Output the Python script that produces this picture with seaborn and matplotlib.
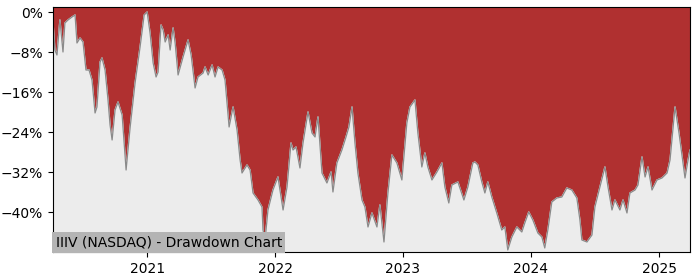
import numpy as np
import pandas as pd
import matplotlib
matplotlib.use("Agg")
import matplotlib.pyplot as plt
import seaborn as sns
from matplotlib.ticker import FuncFormatter

# decimal years (time axis)
years = [
    2020.266, 2020.281, 2020.297, 2020.320, 2020.344, 2020.359, 2020.383, 2020.414,
    2020.438, 2020.453, 2020.477, 2020.500, 2020.523, 2020.547, 2020.570, 2020.594,
    2020.609, 2020.633, 2020.648, 2020.672, 2020.695, 2020.711, 2020.727, 2020.750,
    2020.773, 2020.805, 2020.836, 2020.867, 2020.906, 2020.945, 2020.977, 2021.000,
    2021.023, 2021.047, 2021.070, 2021.086, 2021.109, 2021.125, 2021.141, 2021.164,
    2021.180, 2021.203, 2021.219, 2021.242, 2021.281, 2021.320, 2021.344, 2021.375,
    2021.398, 2021.438, 2021.453, 2021.477, 2021.508, 2021.531, 2021.555, 2021.586,
    2021.609, 2021.641, 2021.672, 2021.703, 2021.727, 2021.742, 2021.781, 2021.805,
    2021.828, 2021.867, 2021.898, 2021.906, 2021.922, 2021.945, 2021.984, 2022.023,
    2022.063, 2022.094, 2022.125, 2022.141, 2022.164, 2022.195, 2022.219, 2022.258,
    2022.289, 2022.313, 2022.336, 2022.367, 2022.406, 2022.438, 2022.453, 2022.484,
    2022.523, 2022.555, 2022.578, 2022.602, 2022.625, 2022.648, 2022.680, 2022.703,
    2022.727, 2022.758, 2022.797, 2022.820, 2022.852, 2022.883, 2022.914, 2022.953,
    2022.992, 2023.031, 2023.055, 2023.094, 2023.117, 2023.148, 2023.172, 2023.195,
    2023.227, 2023.266, 2023.305, 2023.328, 2023.359, 2023.383, 2023.430, 2023.477,
    2023.508, 2023.547, 2023.563, 2023.586, 2023.617, 2023.641, 2023.664, 2023.695,
    2023.734, 2023.773, 2023.797, 2023.820, 2023.852, 2023.891, 2023.930, 2023.953,
    2023.984, 2024.016, 2024.055, 2024.086, 2024.109, 2024.133, 2024.164, 2024.203,
    2024.242, 2024.281, 2024.320, 2024.359, 2024.383, 2024.398, 2024.438, 2024.477,
    2024.500, 2024.539, 2024.578, 2024.602, 2024.633, 2024.656, 2024.695, 2024.719,
    2024.750, 2024.773, 2024.813, 2024.836, 2024.867, 2024.891, 2024.914, 2024.945,
    2024.984, 2025.023, 2025.063, 2025.086, 2025.125, 2025.156, 2025.203, 2025.227,
    2025.242,
]

# drawdown in percent
drawdown = [
    -2.0, -7.6, -8.6, -1.6, -8.0, -2.2, -1.6, -1.0,
    -0.6, -6.2, -5.2, -6.0, -11.6, -11.6, -13.6, -20.2,
    -19.0, -10.0, -9.2, -11.6, -17.6, -22.6, -25.6, -19.6,
    -18.0, -20.6, -31.6, -23.2, -14.2, -7.0, -0.6, 0.0,
    -4.2, -10.2, -13.0, -12.0, -2.6, -3.6, -6.0, -4.6,
    -7.6, -3.2, -6.2, -12.6, -9.0, -5.6, -8.6, -15.2,
    -13.0, -12.2, -11.0, -12.6, -10.6, -13.0, -11.0, -11.6,
    -13.6, -23.0, -19.0, -23.6, -29.6, -32.2, -30.6, -31.6,
    -36.2, -37.6, -39.0, -43.6, -45.6, -39.6, -35.6, -33.0,
    -39.6, -35.0, -26.2, -27.6, -27.0, -31.2, -26.2, -20.0,
    -24.2, -25.0, -21.0, -32.2, -34.2, -32.0, -36.0, -30.2,
    -27.6, -25.0, -23.0, -19.0, -26.2, -32.2, -37.6, -39.0,
    -43.0, -40.2, -43.0, -38.6, -46.0, -36.2, -28.6, -30.2,
    -33.6, -22.2, -19.0, -17.6, -24.2, -31.0, -28.2, -31.0,
    -33.6, -32.0, -30.2, -35.0, -38.2, -34.6, -34.0, -37.6,
    -35.0, -30.2, -30.0, -30.6, -34.0, -36.2, -34.0, -37.0,
    -40.2, -43.6, -43.0, -47.6, -45.0, -43.0, -44.0, -42.2,
    -40.0, -41.6, -44.2, -45.0, -47.2, -43.6, -38.0, -37.2,
    -37.0, -35.2, -35.6, -37.2, -41.6, -45.6, -46.0, -44.6,
    -39.0, -35.0, -31.0, -35.0, -39.6, -37.6, -39.6, -37.6,
    -40.2, -36.2, -35.6, -34.6, -29.0, -33.0, -31.0, -35.6,
    -33.6, -33.2, -32.2, -29.6, -19.0, -24.2, -33.2, -29.6,
    -27.6,
]

y_ticks = [0, -8, -16, -24, -32, -40]
title = "IIIV (NASDAQ) - Drawdown Chart"


def to_date(y):
    yr = int(np.floor(y))
    start = pd.Timestamp(year=yr, month=1, day=1)
    end = pd.Timestamp(year=yr + 1, month=1, day=1)
    return start + (end - start) * (y - yr)


dates = [to_date(y) for y in years]
df = pd.DataFrame({"date": dates, "dd": drawdown})

fig = plt.figure(figsize=(7, 2.8), dpi=100)
ax = fig.add_axes([0.0757, 0.1, 0.91, 0.875])
ax.set_facecolor("#b03030")

ax.fill_between(df["date"], df["dd"], -100, color="#ececec", zorder=1)
sns.lineplot(data=df, x="date", y="dd", ax=ax, color="#8a8a8a", lw=0.9, zorder=2)

ax.set_ylim(-48, 1)
ax.set_xlim(to_date(2020.266), to_date(2025.242))
ax.set_yticks(y_ticks)
ax.yaxis.set_major_formatter(FuncFormatter(lambda v, p: f"{int(v)}%".replace("-", "\u2212")))
import matplotlib.dates as mdates
ax.xaxis.set_major_locator(mdates.YearLocator())
ax.xaxis.set_major_formatter(mdates.DateFormatter("%Y"))
ax.set_xlabel("")
ax.set_ylabel("")
ax.tick_params(labelsize=10)

ax.text(0.004, 0.012, title, transform=ax.transAxes, fontsize=10, ha="left", va="bottom",
        zorder=5, bbox=dict(facecolor="#b4b4b4", edgecolor="none", pad=2.5))

fig.savefig("out.png", dpi=100)
